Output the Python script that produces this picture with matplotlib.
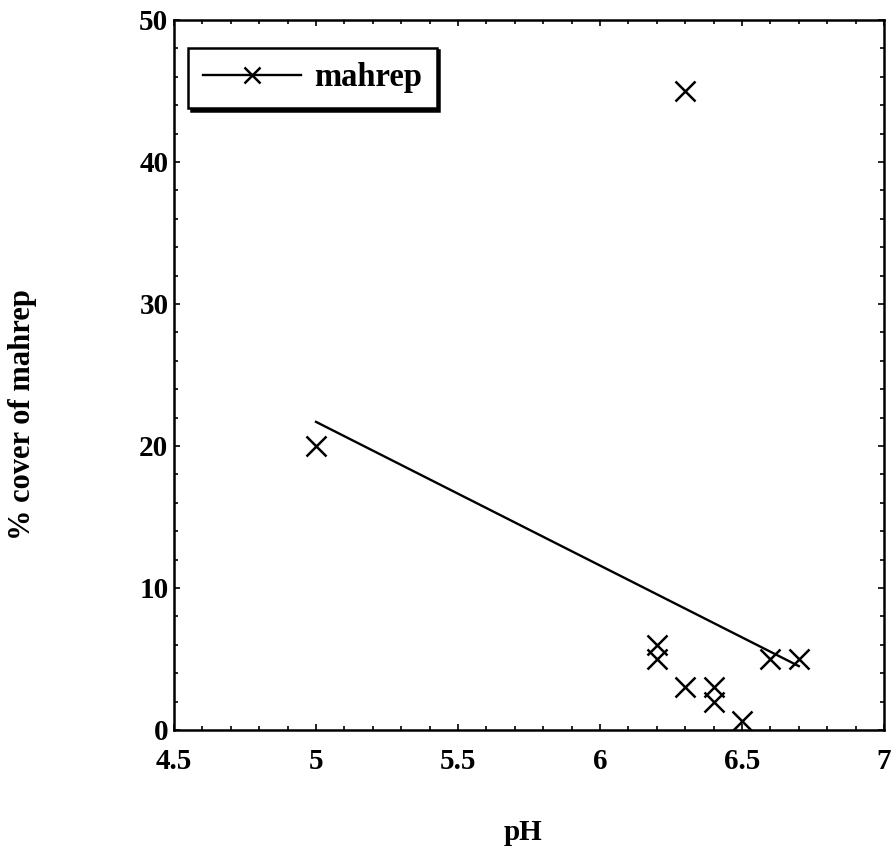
import matplotlib.pyplot as plt
from matplotlib.ticker import MultipleLocator

# data
ph = [5.0, 6.3, 6.2, 6.2, 6.3, 6.4, 6.4, 6.5, 6.6, 6.7]
cover = [20, 45, 6, 5, 3, 3, 2, 0.6, 5, 5]
fit_ph = [5.0, 6.7]
fit_cover = [21.7, 4.5]

plt.rcParams['font.family'] = ['Liberation Serif', 'DejaVu Serif']
plt.rcParams['font.weight'] = 'bold'

fig = plt.figure(figsize=(8.94, 8.6), dpi=100)
ax = fig.add_axes([174 / 894, 1 - 730 / 860, 710 / 894, 710 / 860])

ax.plot(fit_ph, fit_cover, color='black', lw=1.7)
ax.plot(ph, cover, ls='none', marker='x', ms=14, mew=1.8, color='black')

# legend handle: line with marker
h = plt.Line2D([], [], color='black', lw=1.7, marker='x', ms=11, mew=1.8)
leg = ax.legend([h], ['mahrep'], loc='upper left', bbox_to_anchor=(0.02, 0.961),
                borderaxespad=0, fancybox=False, handlelength=3.0,
                handletextpad=0.4, borderpad=0.45,
                prop={'size': 23.5, 'weight': 'bold'},
                shadow={'color': 'black', 'alpha': 1})
leg.get_frame().set_edgecolor('black')
leg.get_frame().set_linewidth(1.8)

ax.set_xlim(4.5, 7)
ax.set_ylim(0, 50)
ax.xaxis.set_major_locator(MultipleLocator(0.5))
ax.xaxis.set_minor_locator(MultipleLocator(0.1))
ax.yaxis.set_major_locator(MultipleLocator(10))
ax.yaxis.set_minor_locator(MultipleLocator(2))
ax.tick_params(which='both', direction='in', top=True, right=True, width=1.2)
ax.tick_params(which='major', length=4, labelsize=21)
ax.tick_params(which='minor', length=3)
ax.tick_params(axis='x', pad=13)
ax.tick_params(axis='y', pad=4)
for s in ax.spines.values():
    s.set_linewidth(1.8)

ax.set_xticks([4.5, 5, 5.5, 6, 6.5, 7])
ax.set_xticklabels(['4.5', '5', '5.5', '6', '6.5', '7'])

fig.text(523 / 894, 1 - 832 / 860, 'pH', ha='center', va='center',
         fontsize=21, fontweight='bold')
fig.text(23 / 894, 1 - 415 / 860, '% cover of mahrep', ha='center', va='center',
         rotation=90, fontsize=22, fontweight='bold')

fig.savefig('out.png', dpi=100)
